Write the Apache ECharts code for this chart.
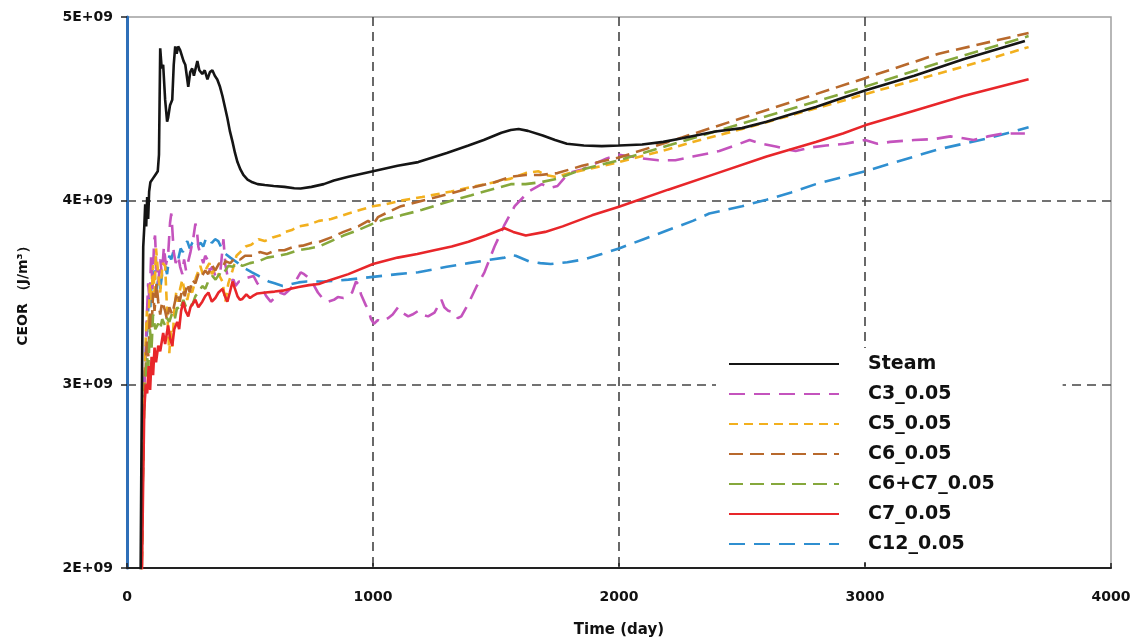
<!DOCTYPE html>
<html>
<head>
<meta charset="utf-8">
<script src="https://cdn.jsdelivr.net/npm/echarts@6/dist/echarts.min.js"></script>
<style>html,body{margin:0;padding:0;background:#fff}#c{width:1146px;height:643px}</style>
</head>
<body>
<div id="c"></div>
<script>
// ---- data (time in days, CEOR in units of 1E+09 J/m3) ----
const seriesNames = ['Steam', 'C3_0.05', 'C5_0.05', 'C6_0.05', 'C6+C7_0.05', 'C7_0.05', 'C12_0.05'];
const xTicks = [0, 1000, 2000, 3000, 4000];
const yTicks = ['2E+09', '3E+09', '4E+09', '5E+09'];

const steamT = [55,58,62,66,70,74,78,82,86,90,95,105,115,125,130,135,141,147,155,163,167,175,184,190,196,202,208,216,224,230,237,243,249,257,265,272,278,286,294,306,316,327,337,347,357,367,378,388,398,408,418,429,439,449,461,473,490,510,531,560,596,640,680,706,750,800,841,900,1000,1100,1184,1300,1388,1450,1522,1560,1592,1630,1690,1740,1788,1857,1930,2000,2094,2180,2257,2392,2500,2600,2700,2800,2910,3000,3200,3400,3650];
const steamV = [1.9,2.5,3.2,3.75,3.85,3.98,3.86,4.02,3.9,4.05,4.10,4.12,4.14,4.16,4.25,4.83,4.72,4.74,4.55,4.43,4.45,4.52,4.55,4.74,4.84,4.80,4.84,4.82,4.83,4.76,4.74,4.68,4.62,4.70,4.72,4.68,4.69,4.76,4.71,4.69,4.71,4.66,4.70,4.71,4.68,4.66,4.62,4.57,4.51,4.45,4.38,4.32,4.26,4.21,4.17,4.14,4.115,4.10,4.09,4.085,4.08,4.075,4.068,4.066,4.075,4.09,4.11,4.13,4.16,4.19,4.21,4.26,4.30,4.33,4.37,4.385,4.39,4.38,4.355,4.33,4.31,4.30,4.297,4.30,4.306,4.32,4.34,4.377,4.395,4.43,4.47,4.51,4.56,4.60,4.68,4.77,4.869];

const c3T = [58,63,68,74,80,86,92,98,104,110,114,120,127,135,142,150,158,167,175,180,184,190,198,208,216,225,232,240,249,258,270,278,284,290,300,310,318,327,337,347,359,370,380,392,400,410,420,433,441,455,473,490,514,530,550,566,584,600,620,640,665,685,706,720,747,776,800,816,841,857,880,898,915,931,943,951,971,980,992,1004,1020,1035,1061,1080,1102,1120,1143,1160,1184,1200,1224,1250,1278,1290,1306,1331,1345,1359,1388,1420,1453,1494,1535,1576,1633,1686,1720,1750,1795,1850,1900,1950,2000,2050,2094,2160,2229,2300,2408,2470,2531,2580,2637,2680,2718,2780,2841,2920,3000,3050,3102,3200,3280,3347,3400,3441,3500,3560,3650];
const c3V = [1.9,2.5,2.9,3.1,3.35,3.55,3.45,3.7,3.52,3.78,3.81,3.62,3.55,3.68,3.60,3.75,3.65,3.70,3.88,3.93,3.85,3.72,3.66,3.70,3.64,3.60,3.68,3.62,3.67,3.72,3.80,3.875,3.84,3.75,3.70,3.66,3.70,3.68,3.62,3.64,3.59,3.60,3.62,3.79,3.65,3.58,3.56,3.57,3.535,3.56,3.56,3.58,3.59,3.55,3.52,3.48,3.45,3.47,3.50,3.49,3.52,3.56,3.61,3.60,3.57,3.50,3.46,3.45,3.46,3.475,3.47,3.48,3.50,3.56,3.54,3.49,3.43,3.41,3.355,3.33,3.35,3.34,3.36,3.38,3.42,3.39,3.37,3.38,3.40,3.38,3.37,3.39,3.46,3.42,3.40,3.39,3.36,3.37,3.44,3.53,3.61,3.75,3.87,3.97,4.05,4.09,4.07,4.08,4.15,4.17,4.20,4.23,4.25,4.24,4.23,4.22,4.22,4.24,4.27,4.30,4.33,4.31,4.295,4.28,4.27,4.29,4.30,4.31,4.33,4.31,4.32,4.33,4.335,4.35,4.34,4.33,4.35,4.365,4.366];

const c5T = [59,64,69,75,81,87,93,99,106,112,118,127,135,145,155,163,172,178,184,192,200,208,216,225,235,245,255,265,280,298,308,318,335,345,359,372,388,400,412,429,445,460,482,505,535,560,592,620,645,670,698,740,780,830,900,950,1000,1050,1114,1200,1318,1400,1494,1560,1620,1673,1700,1740,1800,1900,2000,2100,2200,2300,2400,2500,2700,2900,3000,3200,3400,3665];
const c5V = [1.9,2.5,2.9,3.2,3.4,3.3,3.55,3.45,3.65,3.5,3.74,3.60,3.50,3.66,3.645,3.40,3.17,3.30,3.20,3.40,3.50,3.45,3.52,3.57,3.50,3.46,3.52,3.50,3.58,3.645,3.60,3.62,3.66,3.60,3.63,3.60,3.56,3.45,3.55,3.62,3.70,3.72,3.75,3.76,3.79,3.78,3.80,3.81,3.83,3.84,3.86,3.87,3.89,3.90,3.93,3.95,3.97,3.98,4.00,4.02,4.05,4.075,4.10,4.12,4.15,4.16,4.14,4.13,4.15,4.18,4.21,4.245,4.28,4.32,4.355,4.39,4.465,4.54,4.58,4.655,4.73,4.836];

const c6T = [59,64,69,75,81,87,93,100,106,112,120,127,135,143,155,163,172,184,195,204,214,225,235,245,255,265,278,290,300,318,330,345,359,375,390,400,420,440,460,480,510,540,570,604,640,680,714,750,780,830,880,940,980,1000,1020,1050,1114,1200,1318,1400,1494,1560,1620,1680,1750,1850,2000,2200,2500,2800,3000,3300,3665];
const c6V = [1.9,2.5,2.85,3.05,3.25,3.15,3.4,3.3,3.5,3.4,3.55,3.45,3.38,3.45,3.40,3.35,3.42,3.38,3.45,3.50,3.45,3.52,3.48,3.55,3.50,3.57,3.55,3.60,3.58,3.62,3.60,3.65,3.62,3.66,3.64,3.67,3.66,3.69,3.68,3.70,3.70,3.72,3.71,3.73,3.73,3.75,3.755,3.77,3.775,3.80,3.83,3.86,3.89,3.87,3.91,3.93,3.97,4.00,4.04,4.07,4.10,4.13,4.14,4.14,4.15,4.19,4.235,4.32,4.45,4.58,4.667,4.80,4.913];

const c67T = [59,64,69,75,81,87,93,100,106,115,127,135,143,155,163,172,184,195,204,214,229,240,249,265,278,290,306,318,330,347,360,375,388,400,412,430,450,469,500,535,570,616,650,698,740,780,830,880,940,1000,1050,1114,1200,1318,1400,1494,1560,1620,1680,1750,1850,2000,2200,2500,2800,3000,3300,3665];
const c67V = [1.9,2.45,2.85,3.0,3.15,3.1,3.3,3.2,3.38,3.3,3.33,3.30,3.355,3.32,3.36,3.34,3.39,3.36,3.42,3.40,3.46,3.42,3.44,3.43,3.48,3.50,3.535,3.52,3.56,3.59,3.57,3.60,3.59,3.62,3.645,3.64,3.66,3.645,3.66,3.67,3.69,3.70,3.71,3.73,3.74,3.75,3.78,3.81,3.84,3.875,3.90,3.92,3.95,4.00,4.03,4.065,4.09,4.09,4.10,4.12,4.17,4.22,4.30,4.42,4.54,4.62,4.75,4.896];

const c7T = [60,65,70,76,82,88,94,100,106,112,118,127,135,147,155,167,175,184,192,204,212,220,229,238,249,258,268,278,290,306,318,331,345,359,372,388,398,408,418,429,439,449,459,469,485,500,510,530,563,600,633,665,698,740,780,830,900,1000,1100,1180,1249,1320,1388,1460,1535,1570,1621,1700,1771,1890,2000,2200,2400,2600,2800,2910,3000,3200,3400,3665];
const c7V = [1.9,2.4,2.85,3.0,2.95,3.1,2.97,3.15,3.05,3.2,3.12,3.21,3.18,3.28,3.22,3.32,3.25,3.21,3.30,3.34,3.30,3.40,3.45,3.40,3.37,3.42,3.44,3.46,3.42,3.45,3.48,3.50,3.45,3.47,3.50,3.52,3.48,3.45,3.50,3.56,3.52,3.48,3.46,3.465,3.49,3.47,3.48,3.495,3.50,3.505,3.51,3.52,3.53,3.54,3.546,3.57,3.60,3.655,3.69,3.71,3.73,3.75,3.776,3.81,3.85,3.83,3.81,3.83,3.86,3.92,3.967,4.06,4.15,4.24,4.32,4.366,4.41,4.49,4.57,4.661];

const c12T = [57,62,67,72,78,84,90,95,100,106,112,118,127,135,145,155,163,172,180,188,198,208,218,227,237,245,255,265,278,290,300,310,320,331,345,358,371,385,400,420,441,460,482,508,535,555,576,600,633,665,698,730,760,800,900,1000,1100,1184,1300,1388,1460,1535,1555,1580,1633,1680,1722,1790,1857,1930,2000,2100,2200,2300,2367,2500,2600,2700,2800,2900,3000,3100,3200,3300,3400,3500,3600,3665];
const c12V = [1.9,2.4,2.9,3.05,3.2,3.35,3.5,3.42,3.55,3.52,3.62,3.50,3.57,3.52,3.62,3.645,3.60,3.70,3.68,3.72,3.68,3.68,3.74,3.72,3.76,3.78,3.74,3.77,3.79,3.76,3.77,3.75,3.79,3.80,3.77,3.79,3.78,3.74,3.71,3.69,3.67,3.65,3.63,3.61,3.59,3.575,3.56,3.55,3.535,3.545,3.555,3.56,3.56,3.56,3.57,3.585,3.60,3.61,3.64,3.66,3.675,3.69,3.705,3.70,3.67,3.66,3.655,3.665,3.68,3.71,3.74,3.79,3.84,3.89,3.93,3.97,4.005,4.045,4.09,4.125,4.16,4.20,4.24,4.28,4.31,4.34,4.375,4.40];

// ---- styles ----
const colors = ['#151515', '#c453bd', '#f2b01e', '#b8692c', '#86a83c', '#e8262a', '#2f8fd0'];
const dashes = ['solid', [16, 9], [9, 6], [14, 7], [14, 7], 'solid', [16, 9]];
const seriesT = [steamT, c3T, c5T, c6T, c67T, c7T, c12T];
const seriesV = [steamV, c3V, c5V, c6V, c67V, c7V, c12V];
const zs = [9, 3, 4, 5, 6, 7, 2];

const font = 'DejaVu Sans';
const chart = echarts.init(document.getElementById('c'), null, {renderer: 'canvas'});
const series = seriesNames.map((n, i) => ({
  name: n,
  type: 'line',
  symbol: 'none',
  clip: true,
  z: zs[i],
  data: seriesT[i].map((t, k) => [t, seriesV[i][k] * 1e9]),
  lineStyle: {color: colors[i], width: 2.6, type: dashes[i]},
  itemStyle: {color: colors[i]}
}));

chart.setOption({
  animation: false,
  backgroundColor: '#fff',
  grid: {left: 127, right: 35, top: 17, bottom: 75, show: true, borderColor: '#a0a0a0', borderWidth: 1.5},
  xAxis: {
    type: 'value', min: xTicks[0], max: xTicks[xTicks.length - 1], interval: 1000,
    name: 'Time (day)', nameLocation: 'middle', nameGap: 55,
    nameTextStyle: {fontFamily: font, fontWeight: 'bold', fontSize: 15, color: '#111'},
    axisLine: {lineStyle: {color: '#222', width: 2}},
    axisTick: {show: true, inside: true, length: 5, lineStyle: {color: '#222', width: 1.5}},
    axisLabel: {fontFamily: font, fontWeight: 'bold', fontSize: 14, color: '#111', margin: 22,
      formatter: v => String(v)},
    splitLine: {show: true, lineStyle: {color: ['transparent', '#444', '#444', '#444', 'transparent'], width: 1.6, type: [9, 6]}}
  },
  yAxis: {
    type: 'value', min: 2e9, max: 5e9, interval: 1e9,
    name: 'CEOR （J/m³）', nameLocation: 'middle', nameGap: 97, nameRotate: 90,
    nameTextStyle: {fontFamily: font, fontWeight: 'bold', fontSize: 14, color: '#111'},
    axisLine: {show: true, lineStyle: {color: '#2f6fb8', width: 3}},
    axisTick: {show: true, length: 6, lineStyle: {color: '#222', width: 1.5}},
    axisLabel: {fontFamily: font, fontWeight: 'bold', fontSize: 14, color: '#111', margin: 14,
      formatter: v => yTicks[Math.round(v / 1e9) - 2]},
    splitLine: {show: true, lineStyle: {color: ['transparent', '#444', '#444', 'transparent'], width: 1.6, type: [9, 6]}}
  },
  legend: {
    orient: 'vertical', left: 716, top: 348,
    data: seriesNames,
    backgroundColor: '#fff',
    padding: [6, 68, 8, 12],
    itemWidth: 110, itemHeight: 14, itemGap: 10,
    itemStyle: {opacity: 0, borderWidth: 0},
    textStyle: {fontFamily: font, fontWeight: 'bold', fontSize: 19, lineHeight: 20, color: '#111', padding: [0, 0, 0, 24]}
  },
  series: series
});
</script>
</body>
</html>
